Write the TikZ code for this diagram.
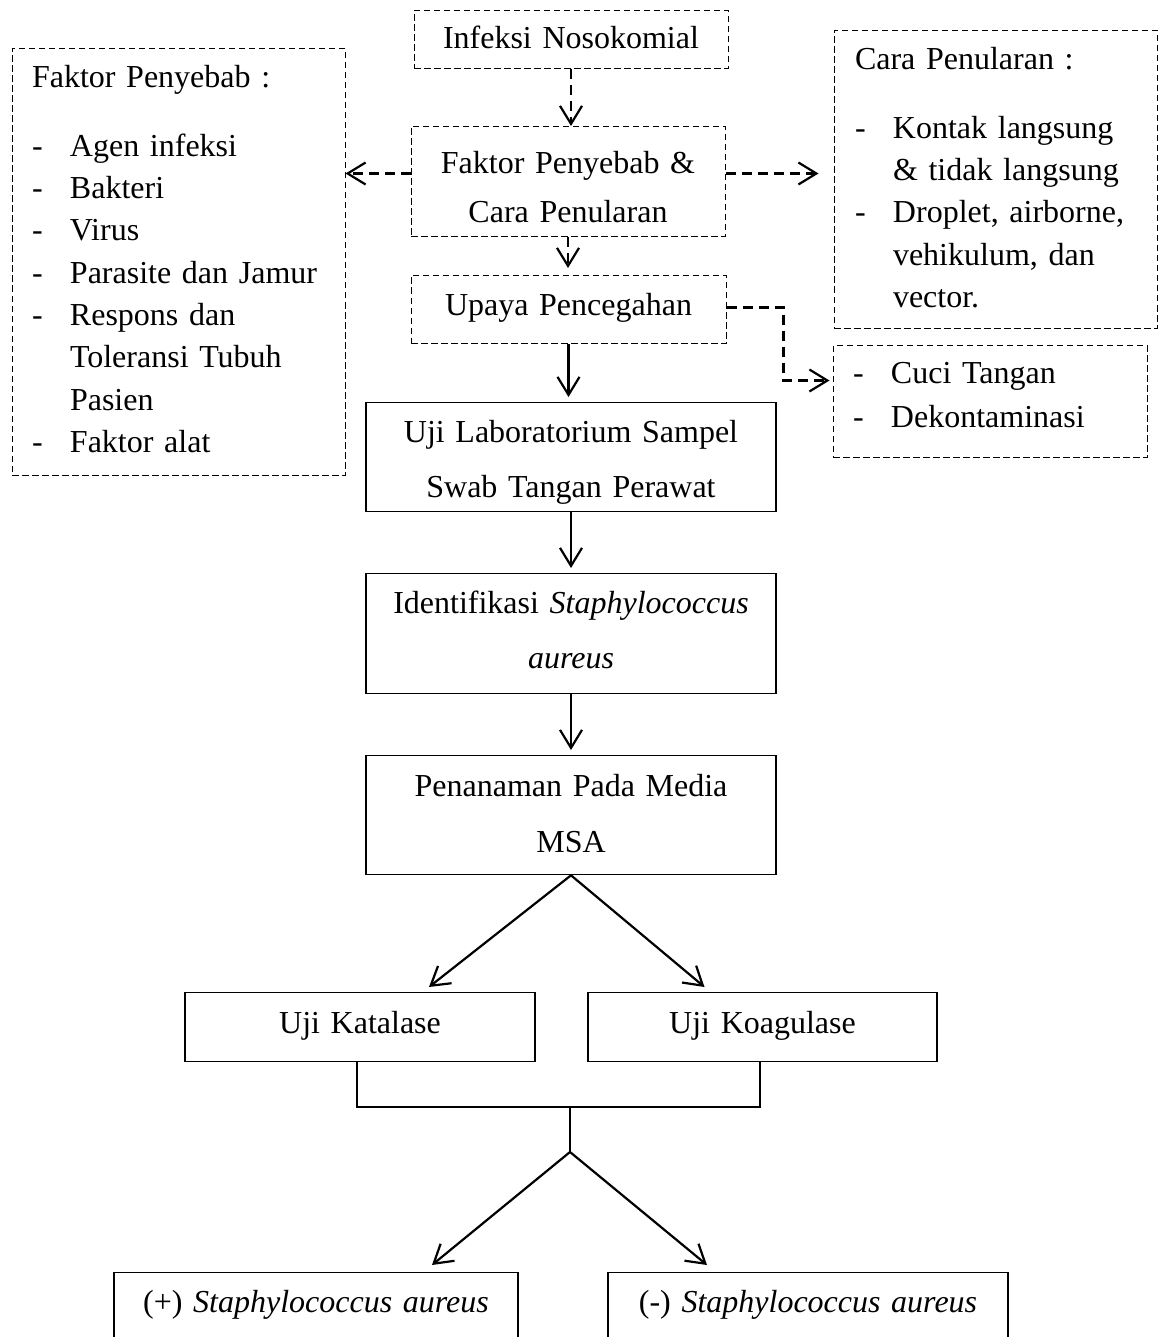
\documentclass[tikz,border=0pt]{standalone}
\usepackage{fontspec}
\setmainfont{Liberation Serif}
\usetikzlibrary{arrows.meta}

\newcommand{\dashitem}{\makebox[38pt][l]{-}}
\newcommand{\dashcont}{\hspace*{38pt}}

\begin{document}
\begin{tikzpicture}[x=1pt, y=-1pt,
    every node/.style={inner xsep=0pt, inner ysep=0pt, anchor=north, align=center,
        font=\fontsize{32}{55}\selectfont},
    solidbox/.style={draw, line width=1.3pt},
    dashbox/.style={draw, line width=1pt, dash pattern=on 6.5pt off 3.5pt},
    listbox/.style={dashbox, align=left, inner xsep=20pt, font=\fontsize{32}{42.3}\selectfont},
    arr/.style={line width=2.2pt, -{Straight Barb[length=18pt, width=22pt]}},
    darr/.style={arr, dash pattern=on 10pt off 6pt}]

                \useasboundingbox (0,0) rectangle (1163,1337);
                \fill[white] (0,0) rectangle (1163,1337);

                % main column
                \node [dashbox, text width=314pt, text height=38pt, text depth=20pt] (infeksi) at (571,10) {Infeksi Nosokomial};
                \node [dashbox, text width=314pt, text height=47pt, text depth=63pt,
                    font=\fontsize{32}{49}\selectfont] (faktor) at (568,126) {Faktor Penyebab \&\\Cara Penularan};
                \node [dashbox, text width=315pt, text height=40pt, text depth=28pt] (upaya) at (568.5,275) {Upaya Pencegahan};
                \node [solidbox, text width=410pt, text height=40pt, text depth=69pt] (lab) at (571,402) {Uji Laboratorium Sampel\\Swab Tangan Perawat};
                \node [solidbox, text width=410pt, text height=40pt, text depth=80pt] (ident) at (571,573) {Identifikasi \textit{Staphylococcus}\\\textit{aureus}};
                \node [solidbox, text width=410pt, text height=41pt, text depth=78pt,
                    font=\fontsize{32}{56}\selectfont] (tanam) at (571,755) {Penanaman Pada Media\\MSA};

                % tests
                \node [solidbox, text width=350pt, text height=41pt, text depth=28pt] (katalase) at (360,992) {Uji Katalase};
                \node [solidbox, text width=349pt, text height=41pt, text depth=28pt] (koagulase) at (762.5,992) {Uji Koagulase};

                % results
                \node [solidbox, text width=404pt, text height=40pt, text depth=33pt] (pos) at (316,1272) {(+) \textit{Staphylococcus aureus}};
                \node [solidbox, text width=400pt, text height=40pt, text depth=33pt] (neg) at (808,1272) {(-) \textit{Staphylococcus aureus}};

                % side lists
                \node [listbox, text width=293pt, text height=39pt, text depth=388pt] (penyebab) at (178.5,48) {Faktor Penyebab :\\[26.5pt]
                    \dashitem Agen infeksi\\
                    \dashitem Bakteri\\
                    \dashitem Virus\\
                    \dashitem Parasite dan Jamur\\
                    \dashitem Respons dan\\
                    \dashcont Toleransi Tubuh\\
                    \dashcont Pasien\\
                    \dashitem Faktor alat};
                \node [listbox, inner xsep=21pt, text width=281pt, text height=39pt, text depth=259pt] (cara) at (995.5,30) {Cara Penularan :\\[26.5pt]
                    \dashitem Kontak langsung\\
                    \dashcont \& tidak langsung\\
                    \dashitem Droplet, airborne,\\
                    \dashcont vehikulum, dan\\
                    \dashcont vector.};
                \node [listbox, text width=274pt, text height=38pt, text depth=74pt,
                    font=\fontsize{32}{44}\selectfont] (cuci) at (990,345) {\dashitem Cuci Tangan\\
                    \dashitem Dekontaminasi};

                % dashed arrows
                \draw [darr] (infeksi.south) -- (infeksi.south |- faktor.north);
                \draw [darr, shorten >=7pt] (faktor.south) -- (faktor.south |- upaya.north);
                \draw [darr] ([yshift=8pt]faktor.west) -- ([yshift=8pt]faktor.west -| penyebab.east);
                \draw [darr, shorten >=15pt] ([yshift=8pt]faktor.east) -- ([yshift=8pt]faktor.east -| cara.west);
                \draw [darr, shorten >=3pt] ([yshift=2pt]upaya.east) -- ++(57,0) |- ([yshift=21pt]cuci.west);

                % solid arrows down the column
                \foreach \a/\b in {upaya/lab, lab/ident, ident/tanam}
                    \draw [arr, shorten >=5pt] (\a.south) -- (\a.south |- \b.north);

                % split into tests
                \draw [arr] (tanam.south) -- ([xshift=69pt, yshift=5pt]katalase.north);
                \draw [arr] (tanam.south) -- ([xshift=-58pt, yshift=5pt]koagulase.north);

                % join and split into results
                \coordinate (join) at (570,1107);
                \coordinate (split) at (570,1152);
                \draw [line width=2.2pt] ([xshift=-3pt]katalase.south) |- (join) -| ([xshift=-2.5pt]koagulase.south);
                \draw [line width=2.2pt] (join) -- (split);
                \draw [arr] (split) -- ([xshift=116pt, yshift=7pt]pos.north);
                \draw [arr] (split) -- ([xshift=-101pt, yshift=7pt]neg.north);

\end{tikzpicture}
\end{document}
